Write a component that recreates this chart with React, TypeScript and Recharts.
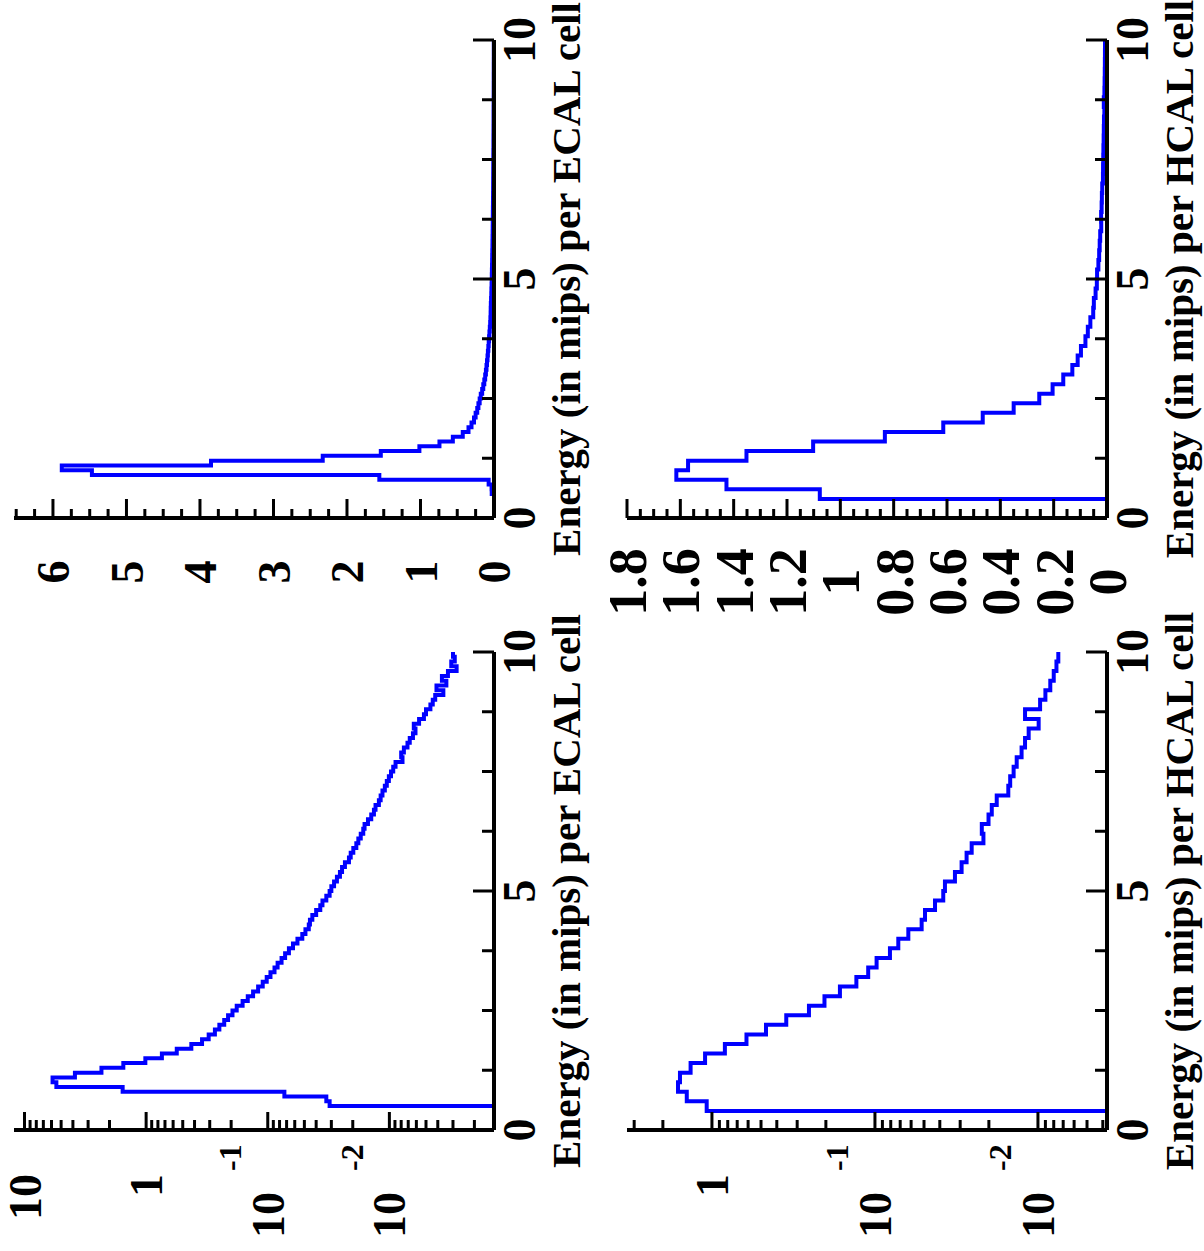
import React from 'react';
import { LineChart, Line, XAxis, YAxis } from 'recharts';

// ECAL: 0.1 mip bins, HCAL: 0.2 mip bins (normalised counts)
const ecalBinWidth = 0.1;
const hcalBinWidth = 0.2;

const ecalCounts = [
  0, 0, 0, 0, 0, 0.031, 0.033, 0.073, 1.56, 5.47,
  5.88, 3.85, 2.33, 1.54, 1.015, 0.742, 0.56, 0.425, 0.347, 0.306,
  0.272, 0.25, 0.228, 0.212, 0.195, 0.18, 0.161, 0.146, 0.132, 0.12,
  0.11, 0.102, 0.095, 0.088, 0.083, 0.077, 0.072, 0.067, 0.062, 0.057,
  0.052, 0.049, 0.046, 0.045, 0.043, 0.04, 0.037, 0.0355, 0.033, 0.031,
  0.03, 0.0285, 0.027, 0.0255, 0.0245, 0.0232, 0.0215, 0.0208, 0.0198, 0.0187,
  0.018, 0.0172, 0.0164, 0.016, 0.015, 0.0141, 0.0134, 0.013, 0.0122, 0.0118,
  0.0114, 0.0109, 0.0105, 0.0101, 0.0097, 0.0093, 0.0089, 0.0078, 0.008, 0.0076,
  0.0071, 0.0068, 0.0064, 0.0061, 0.0063, 0.0057, 0.0052, 0.005, 0.0046, 0.0044,
  0.0042, 0.0036, 0.0041, 0.0034, 0.0037, 0.0033, 0.0028, 0.0031, 0.0029, 0.003,
];

const hcalCounts = [
  0, 0, 1.077, 1.427, 1.615, 1.571, 1.352, 1.102, 0.833, 0.614,
  0.466, 0.35, 0.254, 0.204, 0.164, 0.13, 0.11, 0.0977, 0.0809, 0.0719,
  0.0624, 0.0517, 0.0493, 0.0428, 0.0381, 0.0372, 0.0323, 0.0294, 0.0274, 0.0255,
  0.0216, 0.0221, 0.0201, 0.0192, 0.0179, 0.0152, 0.0148, 0.0141, 0.0135, 0.0126,
  0.012, 0.0114, 0.0099, 0.012, 0.0097, 0.009, 0.0084, 0.008, 0.0077, 0.0075,
];

const energyTicks = [0, 1.25, 2.5, 3.75, 5, 6.25, 7.5, 8.75, 10];
const energyLabels = [0, 5, 10];
const ecalLinLabels = ['0', '1', '2', '3', '4', '5', '6'];
const hcalLinLabels = ['0', '0.2', '0.4', '0.6', '0.8', '1', '1.2', '1.4', '1.6', '1.8'];

const ecalLogDomain = [0.00138, 12.2];
const hcalLogDomain = [0.00377, 3.32];
const ecalLinDomain = [0, 6.53];
const hcalLinDomain = [0, 1.8];

const FONT = '"Liberation Serif", "Times New Roman", Times, serif';
const BLUE = '#0000ff';

function histRows(counts: number[], width: number, floor = 0) {
  const rows = counts.map((c, i) => ({ e: +(i * width).toFixed(2), v: Math.max(c, floor) }));
  rows.push({ e: +(counts.length * width).toFixed(2), v: Math.max(counts[counts.length - 1], floor) });
  return rows;
}

function linTicks(max: number, step: number) {
  const out: number[] = [];
  for (let i = 0; i * step <= max + 1e-9; i++) out.push(+(i * step).toFixed(3));
  return out;
}

function logTicks(domain: number[]) {
  const out: number[] = [];
  for (let p = -4; p <= 2; p++) {
    for (let k = 1; k <= 9; k++) {
      const v = +(k * Math.pow(10, p)).toPrecision(3);
      if (v >= domain[0] && v <= domain[1]) out.push(v);
    }
  }
  return out;
}

function EnergyTick(props: any) {
  const { x, y, payload } = props;
  const v = payload.value;
  const labelled = energyLabels.includes(v);
  return (
    <g>
      <line x1={x} x2={x} y1={y} y2={y - (labelled ? 21 : 12)} stroke="#000" strokeWidth={3} />
      {labelled && (
        <text x={x} y={y + 25} dy="0.35em" textAnchor="middle" fontFamily={FONT} fontWeight="bold" fontSize={46} fill="#000">
          {v}
        </text>
      )}
    </g>
  );
}

function makeLinTick(majorStep: number, labels: string[], offset: number, size: number) {
  return (props: any) => {
    const { x, y, payload } = props;
    const r = payload.value / majorStep;
    const idx = Math.round(r);
    const major = Math.abs(r - idx) < 1e-6;
    return (
      <g>
        <line x1={x} x2={x + (major ? 19 : 9)} y1={y} y2={y} stroke="#000" strokeWidth={3} />
        {major && labels[idx] !== undefined && (
          <text x={x - offset} y={y} dy="0.35em" textAnchor="middle" fontFamily={FONT} fontWeight="bold" fontSize={size} fill="#000">
            {labels[idx]}
          </text>
        )}
      </g>
    );
  };
}

function LogTick(props: any) {
  const { x, y, payload } = props;
  const p = Math.log10(payload.value);
  const n = Math.round(p);
  const major = Math.abs(p - n) < 1e-6;
  const txt = { fontFamily: FONT, fontWeight: 'bold' as const, fill: '#000' };
  return (
    <g>
      <line x1={x} x2={x + (major ? 18 : 10)} y1={y} y2={y} stroke="#000" strokeWidth={3} />
      {major && n >= 0 && (
        <text x={x - 44} y={y} dy="0.35em" textAnchor="end" fontSize={46} {...txt}>
          {String(Math.pow(10, n))}
        </text>
      )}
      {major && n < 0 && (
        <g>
          <text x={x - 62} y={y} dy="0.35em" textAnchor="end" fontSize={46} {...txt}>10</text>
          <text x={x - 41} y={y - 38} dy="0.35em" textAnchor="start" fontSize={32} {...txt}>{String(n)}</text>
        </g>
      )}
    </g>
  );
}

function titleLabel(text: string) {
  return (props: any) => {
    const vb = props.viewBox || {};
    return (
      <text x={vb.x + vb.width / 2} y={vb.y + 86} textAnchor="middle" fontFamily={FONT} fontWeight="bold" fontSize={41} fill="#000">
        {text}
      </text>
    );
  };
}

interface PanelProps {
  left: number;
  top: number;
  padTop: number;
  data: { e: number; v: number }[];
  log: boolean;
  domain: number[];
  ticks: number[];
  tick: any;
  title: string;
}

// every panel: 478 x 480 plot box, value axis 121 px wide, energy axis 106 px tall
function Panel({ left, top, padTop, data, log, domain, ticks, tick, title }: PanelProps) {
  const frame = { stroke: '#000', strokeWidth: 4 };
  return (
    <div style={{ position: 'absolute', left, top }}>
      <LineChart width={640} height={padTop + 480 + 106} data={data} margin={{ top: padTop, right: 41, bottom: 0, left: 0 }}>
        <Line dataKey="v" type="stepAfter" stroke={BLUE} strokeWidth={4} dot={false} activeDot={false} isAnimationActive={false} />
        <XAxis
          dataKey="e"
          type="number"
          domain={[0, 10]}
          ticks={energyTicks}
          interval={0}
          allowDataOverflow
          height={106}
          tick={<EnergyTick />}
          tickLine={false}
          tickSize={0}
          tickMargin={0}
          axisLine={frame}
          label={titleLabel(title)}
        />
        <XAxis xAxisId="top" orientation="top" type="number" domain={[0, 10]} height={0} tick={false} tickLine={false} axisLine={frame} />
        <YAxis
          type="number"
          scale={log ? 'log' : 'linear'}
          domain={domain}
          ticks={ticks}
          interval={0}
          allowDataOverflow
          width={121}
          tick={tick}
          tickLine={false}
          tickSize={0}
          tickMargin={0}
          axisLine={frame}
        />
        <YAxis yAxisId="right" orientation="right" type="number" domain={[0, 1]} width={0} tick={false} tickLine={false} axisLine={frame} />
      </LineChart>
    </div>
  );
}

export default function App() {
  const ecalLog = histRows(ecalCounts, ecalBinWidth, ecalLogDomain[0]);
  const ecalLin = histRows(ecalCounts, ecalBinWidth);
  const hcalLog = histRows(hcalCounts, hcalBinWidth, hcalLogDomain[0]);
  const hcalLin = histRows(hcalCounts, hcalBinWidth);

  return (
    <div style={{ position: 'absolute', left: 0, top: 0, width: 1204, height: 1251, overflow: 'hidden', background: '#fff' }}>
      {/* the figure is laid out upright and then turned a quarter counter-clockwise */}
      <div
        style={{
          position: 'absolute',
          left: 0,
          top: 0,
          width: 1251,
          height: 1204,
          transformOrigin: '0 0',
          transform: 'translate(0px, 1251px) rotate(-90deg)',
        }}
      >
        <Panel left={0} top={0} padTop={14} data={ecalLog} log domain={ecalLogDomain} ticks={logTicks(ecalLogDomain)} tick={<LogTick />} title="Energy (in mips) per ECAL cell" />
        <Panel left={612} top={0} padTop={14} data={ecalLin} log={false} domain={ecalLinDomain} ticks={linTicks(6.5, 0.25)} tick={makeLinTick(1, ecalLinLabels, 54, 46)} title="Energy (in mips) per ECAL cell" />
        <Panel left={0} top={587} padTop={40} data={hcalLog} log domain={hcalLogDomain} ticks={logTicks(hcalLogDomain)} tick={<LogTick />} title="Energy (in mips) per HCAL cell" />
        <Panel left={612} top={587} padTop={40} data={hcalLin} log={false} domain={hcalLinDomain} ticks={linTicks(1.8, 0.05)} tick={makeLinTick(0.2, hcalLinLabels, 64, 54)} title="Energy (in mips) per HCAL cell" />
      </div>
    </div>
  );
}
